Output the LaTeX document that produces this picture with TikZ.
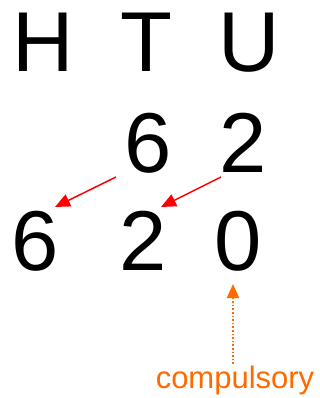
\documentclass[tikz,border=0pt]{standalone}
\usepackage{fontspec}
\setmainfont{Liberation Sans}
\usetikzlibrary{arrows.meta}
\definecolor{carry}{HTML}{FF0000}
\definecolor{note}{HTML}{FF6A00}
\tikzset{
  big/.style={inner sep=0pt, anchor=base, font=\fontsize{85}{85}\selectfont},
  small/.style={inner sep=0pt, anchor=base, text=note, font=\fontsize{31}{31}\selectfont},
  shift arrow/.style={draw=carry, line width=1.5pt, -{Triangle[length=15pt,width=13pt]}},
  note arrow/.style={draw=note, line width=1.6pt, dotted, -{Triangle[length=14pt,width=12pt]}}
}
\begin{document}
\begin{tikzpicture}[x=1pt, y=-1pt]
  \useasboundingbox (0,0) rectangle (320,398);
  % place-value headings
  \node[big] (h) at (43.5,72) {H};
  \node[big] (t) at (146.5,72) {T};
  \node[big] (u) at (249,72) {U};
  % original number
  \node[big] (a6) at (148.5,172) {6};
  \node[big] (a2) at (243.5,172) {2};
  % number times ten
  \node[big] (b6) at (35.5,270) {6};
  \node[big] (b2) at (143,270) {2};
  \node[big] (b0) at (238,270) {0};
  % digit shifts
  \coordinate (s6) at (116,177);
  \coordinate (e6) at (55,207);
  \coordinate (s2) at (221,177);
  \coordinate (e2) at (161,207);
  \draw[shift arrow] (s6) -- (e6);
  \draw[shift arrow] (s2) -- (e2);
  % placeholder note
  \node[small] (c) at (235,388) {compulsory};
  \coordinate (ctop) at (233,364);
  \coordinate (ztip) at (233,284);
  \draw[note arrow] (ctop) -- (ztip);
\end{tikzpicture}
\end{document}
